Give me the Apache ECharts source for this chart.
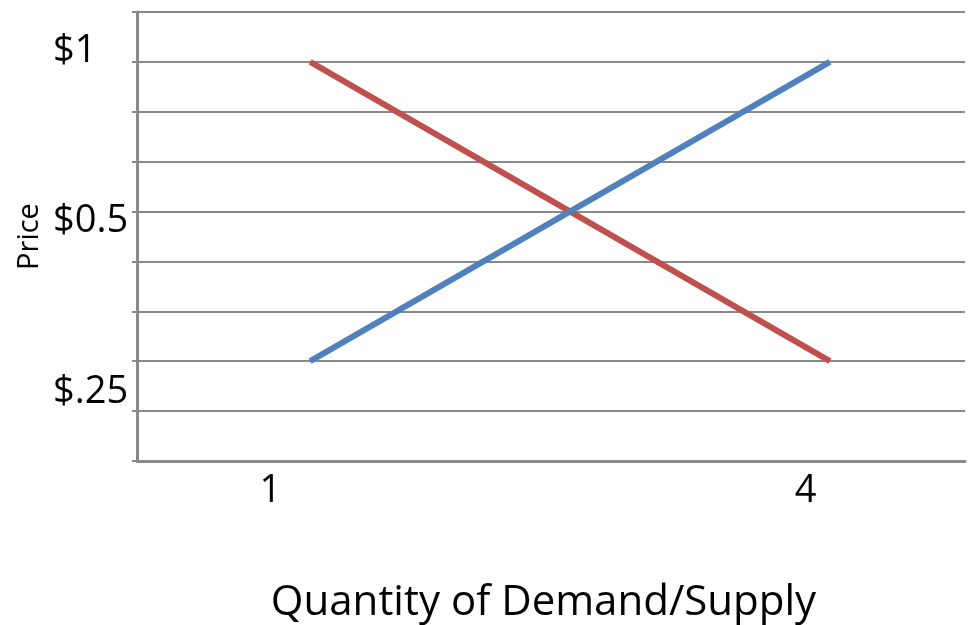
<!DOCTYPE html>
<html>
<head>
<meta charset="utf-8">
<script src="https://cdn.jsdelivr.net/npm/echarts@6/dist/echarts.min.js"></script>
<style>
  html, body { margin: 0; padding: 0; background: #fff; }
  #chart { width: 968px; height: 625px; }
</style>
</head>
<body>
<div id="chart"></div>
<script>
// price levels are counted in grid rows (0 = bottom axis, 9 = top line)
const quantity = [1, 4];
const demand = [8, 2];
const supply = [2, 8];

const priceLabels = ['$1', '$0.5', '$.25'];
const priceLabelAt = [8.22, 4.8, 1.38];
const qtyLabels = ['1', '4'];
const qtyLabelAt = [0.77, 3.86];

const gridColor = '#898989';
const font = '"Open Sans", sans-serif';

const chart = echarts.init(document.getElementById('chart'));

const option = {
    backgroundColor: '#fff',
    animation: false,
    grid: {
        left: 137,
        right: 3,
        top: 12,
        bottom: 164,
        outerBoundsMode: 'none'
    },
    xAxis: [{
        type: 'value',
        min: 0,
        max: 4.78,
        axisLine: { lineStyle: { color: gridColor, width: 3 } },
        axisTick: { show: false },
        axisLabel: { show: false },
        splitLine: { show: false },
        name: 'Quantity of Demand/Supply',
        nameLocation: 'middle',
        nameGap: 121,
        nameTextStyle: {
            color: '#000',
            fontFamily: font,
            fontSize: 42,
            padding: [0, 15, 0, 0]
        }
    }, {
        // only carries the quantity labels
        type: 'value',
        position: 'bottom',
        min: 0,
        max: 4.78,
        axisLine: { show: false },
        axisTick: { show: false },
        splitLine: { show: false },
        axisLabel: {
            customValues: qtyLabelAt,
            formatter: function (v) {
                return qtyLabels[qtyLabelAt.indexOf(v)];
            },
            color: '#000',
            fontFamily: font,
            fontSize: 38,
            margin: 11
        }
    }],
    yAxis: [{
        type: 'value',
        min: 0,
        max: 9,
        interval: 1,
        axisLine: { show: true, lineStyle: { color: gridColor, width: 3 } },
        axisTick: { show: true, inside: false, length: 5, lineStyle: { color: gridColor, width: 2 } },
        axisLabel: { show: false },
        splitLine: { show: true, lineStyle: { color: gridColor, width: 2 } },
        name: 'Price',
        nameLocation: 'middle',
        nameGap: 93,
        nameRotate: 90,
        nameTextStyle: {
            color: '#000',
            fontFamily: font,
            fontSize: 29
        }
    }, {
        // only carries the price labels
        type: 'value',
        position: 'left',
        min: 0,
        max: 9,
        axisLine: { show: false },
        axisTick: { show: false },
        splitLine: { show: false },
        axisLabel: {
            customValues: priceLabelAt,
            formatter: function (v) {
                return priceLabels[priceLabelAt.indexOf(v)];
            },
            align: 'left',
            margin: 84,
            color: '#000',
            fontFamily: font,
            fontSize: 38
        }
    }],
    series: [{
        name: 'Demand',
        type: 'line',
        data: quantity.map((q, i) => [q, demand[i]]),
        showSymbol: false,
        lineStyle: { color: '#C0504D', width: 6 },
        z: 3
    }, {
        name: 'Supply',
        type: 'line',
        data: quantity.map((q, i) => [q, supply[i]]),
        showSymbol: false,
        lineStyle: { color: '#4F81BD', width: 6 },
        z: 4
    }]
};

chart.setOption(option);
</script>
</body>
</html>
